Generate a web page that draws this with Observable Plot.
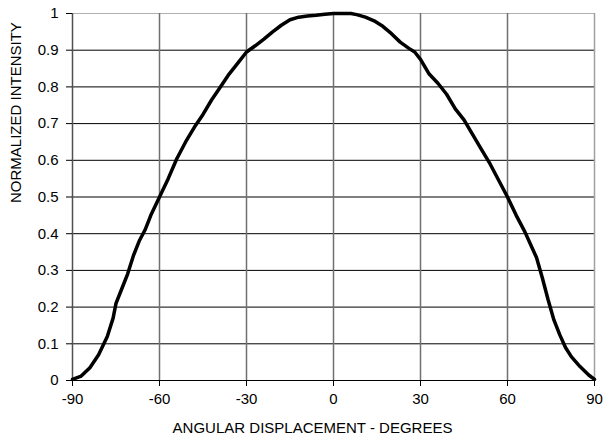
<!DOCTYPE html>
<html>
<head>
<meta charset="utf-8">
<script src="https://cdn.jsdelivr.net/npm/d3@7"></script>
<script src="https://cdn.jsdelivr.net/npm/@observablehq/plot@0.6"></script>
<style>
  html, body { margin: 0; padding: 0; background: #fff; }
  #chart svg { font-family: "Liberation Sans", Arial, sans-serif; }
</style>
</head>
<body>
<div id="chart"></div>
<script>
const angles = [-90,-87,-84,-81,-78,-76,-75,-73,-71,-69,-67,-65,-63,-60,-57,-54,-51,-48,-45,-42,-39,-36,-33,-30,-27,-24,-21,-18,-15,-12,-9,-6,-3,0,3,6,8,11,14,17,20,23,26,28,30,33,36,39,42,45,48,51,54,57,60,63,66,68,70,72,74,76,78,80,82,85,88,90];
const intensity = [0.003,0.012,0.035,0.07,0.12,0.17,0.21,0.25,0.29,0.34,0.38,0.41,0.45,0.5,0.55,0.605,0.65,0.69,0.725,0.765,0.8,0.835,0.865,0.895,0.912,0.93,0.95,0.968,0.983,0.99,0.993,0.995,0.998,1.0,1.0,1.0,0.997,0.99,0.98,0.965,0.945,0.922,0.905,0.895,0.875,0.835,0.81,0.78,0.74,0.71,0.67,0.63,0.59,0.545,0.5,0.45,0.405,0.37,0.335,0.28,0.22,0.165,0.125,0.09,0.065,0.038,0.015,0.003];
const xTicks = [-90,-60,-30,0,30,60,90];
const yTicks = [0,0.1,0.2,0.3,0.4,0.5,0.6,0.7,0.8,0.9,1];
const xLabel = "ANGULAR DISPLACEMENT - DEGREES";
const yLabel = "NORMALIZED INTENSITY";

const data = angles.map((a, i) => ({angle: a, value: intensity[i]}));

const chart = Plot.plot({
  width: 605,
  height: 445,
  marginLeft: 72,
  marginRight: 11,
  marginTop: 13,
  marginBottom: 65,
  style: {fontSize: "15px", fontFamily: "'Liberation Sans', Arial, sans-serif", color: "#000", background: "#fff"},
  x: {domain: [-90, 90]},
  y: {domain: [0, 1]},
  marks: [
    Plot.ruleY(yTicks.filter(d => d > 0 && d < 1), {stroke: "#000", strokeWidth: 1, strokeOpacity: 1}),
    Plot.ruleY([1], {stroke: "#b0b0b0", strokeWidth: 1.2}),
    Plot.ruleX(xTicks.filter(d => d > -90 && d < 90), {stroke: "#707070", strokeWidth: 1.5}),
    Plot.ruleX([90], {stroke: "#a0a0a0", strokeWidth: 1.5}),
    Plot.ruleX([-90], {stroke: "#505050", strokeWidth: 1.5}),
    Plot.ruleY([0], {stroke: "#000", strokeWidth: 1.2}),
    Plot.axisY({ticks: yTicks, tickSize: 6, tickPadding: 8, tickFormat: d => String(d), label: null, stroke: "#000", fontSize: 15}),
    Plot.axisX({ticks: xTicks, tickSize: 6, tickPadding: 7, tickFormat: d => String(d), label: null, stroke: "#000", fontSize: 15}),
    Plot.line(data, {x: "angle", y: "value", stroke: "#000", strokeWidth: 3.5, curve: "linear", strokeLinejoin: "round"}),
    Plot.text([xLabel], {frameAnchor: "bottom", dx: -21, dy: 52, fontSize: 15, fill: "#000"}),
    Plot.text([yLabel], {frameAnchor: "left", dx: -56, dy: 6, rotate: -90, fontSize: 15, fill: "#000"})
  ]
});
document.getElementById("chart").appendChild(chart);
</script>
</body>
</html>
